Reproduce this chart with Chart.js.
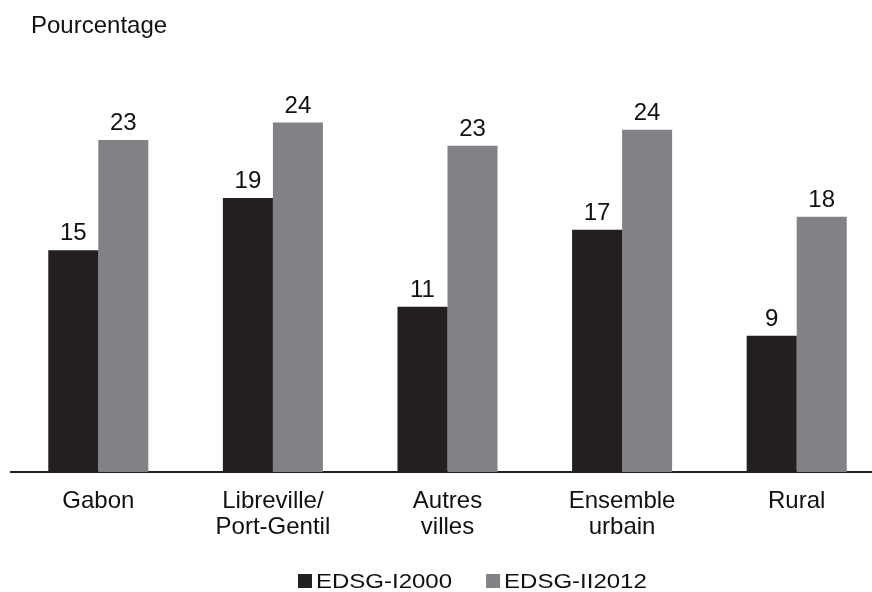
<!DOCTYPE html>
<html>
<head>
<meta charset="utf-8">
<script src="https://cdn.jsdelivr.net/npm/chart.js@4"></script>
<style>
    html, body { margin: 0; padding: 0; background: #fff; overflow: hidden; }
    #wrap { width: 884px; height: 592px; }
</style>
</head>
<body>
<div id="wrap"><canvas id="chart" width="884" height="592"></canvas></div>
<script>
// data
const categories = ['Gabon', ['Libreville/', 'Port-Gentil'], ['Autres', 'villes'], ['Ensemble', 'urbain'], 'Rural'];
const seriesNames = ['EDSG-I2000', 'EDSG-II2012'];
const values2000 = [15.3, 18.9, 11.4, 16.7, 9.4];
const values2012 = [22.9, 24.1, 22.5, 23.6, 17.6];
const yTitle = 'Pourcentage';

const FONT = '"Liberation Sans", Arial, sans-serif';
const TEXT = '#111111';

// value above each bar
const valueLabels = {
    id: 'valueLabels',
    afterDatasetsDraw(chart) {
        const ctx = chart.ctx;
        ctx.save();
        ctx.font = '24px ' + FONT;
        ctx.fillStyle = TEXT;
        ctx.textAlign = 'center';
        ctx.textBaseline = 'alphabetic';
        chart.data.datasets.forEach((ds, i) => {
            chart.getDatasetMeta(i).data.forEach((bar, j) => {
                ctx.fillText(Math.round(ds.data[j]), bar.x, bar.y - 10);
            });
        });
        ctx.restore();
    }
};

// "Pourcentage" at top left and the legend at the bottom
const decorations = {
    id: 'decorations',
    afterDraw(chart) {
        const ctx = chart.ctx;
        ctx.save();
        ctx.fillStyle = TEXT;
        ctx.font = '24px ' + FONT;
        ctx.textBaseline = 'alphabetic';
        ctx.textAlign = 'left';
        ctx.fillText(yTitle, 31, 33);

        // legend: slightly stretched text like the original
        ctx.font = '20px ' + FONT;
        let x = 298;
        const y = 574;
        chart.data.datasets.forEach(ds => {
            ctx.fillStyle = ds.backgroundColor;
            ctx.fillRect(x, y, 14, 14);
            const w = ctx.measureText(ds.label).width * 1.2;
            ctx.save();
            ctx.translate(x + 18, y + 14);
            ctx.scale(1.2, 1);
            ctx.fillStyle = TEXT;
            ctx.fillText(ds.label, 0, 0);
            ctx.restore();
            x += 18 + w + 34;
        });
        ctx.restore();
    }
};

const ctx = document.getElementById('chart').getContext('2d');
const chart = new Chart(ctx, {
    type: 'bar',
    data: {
        labels: categories,
        datasets: [{
            label: seriesNames[0],
            data: values2000,
            backgroundColor: '#231f20',
            barPercentage: 1,
            categoryPercentage: 0.573
        }, {
            label: seriesNames[1],
            data: values2012,
            backgroundColor: '#808285',
            barPercentage: 1,
            categoryPercentage: 0.573
        }]
    },
    options: {
        responsive: false,
        animation: false,
        layout: {
            padding: { left: 11, right: 0, top: 37, bottom: 0 }
        },
        plugins: {
            legend: { display: false },
            tooltip: { enabled: false },
            title: { display: false }
        },
        scales: {
            x: {
                grid: { display: false, drawTicks: false },
                border: { display: true, color: '#231f20', width: 2 },
                ticks: {
                    color: TEXT,
                    padding: 16,
                    maxRotation: 0,
                    autoSkip: false,
                    font: { size: 24, family: FONT, lineHeight: 1.08 }
                },
                afterFit: function (scale) {
                    scale.height = 120;
                }
            },
            y: {
                display: false,
                min: 0,
                max: 30
            }
        }
    },
    plugins: [valueLabels, decorations]
});
</script>
</body>
</html>
